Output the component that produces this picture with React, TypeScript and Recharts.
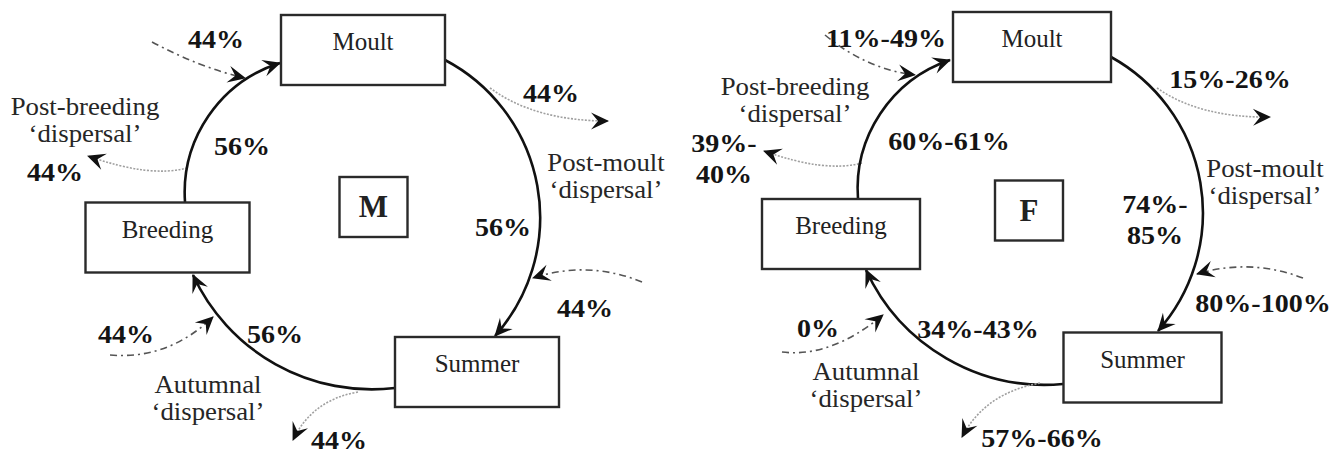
import React from "react";
import { Scatter, ScatterChart, XAxis, YAxis } from "recharts";

type Pt = [number, number];

const W = 1341;
const H = 454;

const stages = ["Moult", "Breeding", "Summer"];
const panels = ["M", "F"];
const dispersalLabels = [
  ["Post-breeding", "\u2018dispersal\u2019"],
  ["Post-moult", "\u2018dispersal\u2019"],
  ["Autumnal", "\u2018dispersal\u2019"],
];

// routes, in this order everywhere below
const routeKeys = [
  "inMoult",
  "postBreeding",
  "breedingToMoult",
  "postMoult",
  "moultToSummer",
  "inSummer",
  "inBreeding",
  "summerToBreeding",
  "autumnal",
];
const routeKind = ["in", "out", "cycle", "out", "cycle", "in", "in", "cycle", "out"];

const maleShares = [["44%"], ["44%"], ["56%"], ["44%"], ["56%"], ["44%"], ["44%"], ["56%"], ["44%"]];
const femaleShares = [
  ["11%-49%"],
  ["39%-", "40%"],
  ["60%-61%"],
  ["15%-26%"],
  ["74%-", "85%"],
  ["80%-100%"],
  ["0%"],
  ["34%-43%"],
  ["57%-66%"],
];

// layout in page units (x right, y down)
const maleStageAt: Pt[] = [[363, 50], [167.5, 237.5], [477, 372]];
const femaleStageAt: Pt[] = [[1032, 47], [841, 234], [1142.5, 367.5]];
const panelAt: Pt[] = [[373.5, 207], [1029, 210.5]];

const maleShareAt: Pt[] = [
  [216, 48], [55, 181], [242, 155], [551, 102], [503, 236],
  [585, 317], [126, 343], [275, 343], [339, 449],
];
const femaleShareAt: Pt[] = [
  [886, 47], [724, 152], [949, 150], [1230, 88], [1155, 213],
  [1263, 312], [818, 337], [978, 338], [1042, 447],
];
const maleDispersalAt: Pt[] = [[85, 115], [606, 171], [208, 393]];
const femaleDispersalAt: Pt[] = [[795, 95], [1265, 177], [866, 380]];

// start, (bend), end of every route
const maleRoutes: Pt[][] = [
  [[152, 42], [201, 68], [245, 78]],
  [[187, 168], [150, 178], [88, 156]],
  [[185, 202], [280, 63]],
  [[490, 88], [535, 121], [608, 121]],
  [[445, 60], [495, 336]],
  [[642, 282], [588, 260], [533, 278]],
  [[110, 355], [168, 360], [213, 317]],
  [[395, 388], [193, 275]],
  [[358, 392], [312, 400], [293, 440]],
];
const femaleRoutes: Pt[][] = [
  [[825, 35], [866, 69], [915, 75]],
  [[862, 163], [825, 173], [764, 151]],
  [[858, 199], [950, 60]],
  [[1157, 88], [1200, 118], [1270, 117]],
  [[1111, 57], [1158, 331]],
  [[1303, 278], [1250, 258], [1197, 274]],
  [[782, 352], [831, 358], [883, 315]],
  [[1063, 384], [866, 270]],
  [[1040, 383], [985, 393], [962, 437]],
];
const cycleRadius: Record<string, number> = {
  breedingToMoult: 136,
  moultToSummer: 178,
  summerToBreeding: 197,
};

const stageBoxSize = [[164, 70], [158, 70]];
const panelBoxSize = [68, 60];

const FONT = "'Liberation Serif', 'Times New Roman', serif";

const routeStyle: Record<string, React.SVGProps<SVGPathElement>> = {
  cycle: { stroke: "#111", strokeWidth: 2.6 },
  in: { stroke: "#555", strokeWidth: 1.6, strokeDasharray: "7 4 2 4" },
  out: { stroke: "#a0a0a0", strokeWidth: 1.6, strokeDasharray: "2 1.5" },
};

const routeLine = (key: string, kind: string, withDefs: boolean) => (props: any) => {
  const p = props.points as { x: number; y: number }[];
  const d =
    p.length === 2
      ? `M${p[0].x},${p[0].y} A${cycleRadius[key]},${cycleRadius[key]} 0 0 1 ${p[1].x},${p[1].y}`
      : `M${p[0].x},${p[0].y} Q${p[1].x},${p[1].y} ${p[2].x},${p[2].y}`;
  return (
    <g>
      {withDefs && (
        <defs>
          <marker
            id="stealth"
            viewBox="-20 -10 22 20"
            refX="0"
            refY="0"
            markerWidth="22"
            markerHeight="20"
            markerUnits="userSpaceOnUse"
            orient="auto"
          >
            <path d="M1,0 L-17,-8.5 L-10,0 L-17,8.5 Z" fill="#111" />
          </marker>
        </defs>
      )}
      <path d={d} fill="none" {...routeStyle[kind]} markerEnd="url(#stealth)" />
    </g>
  );
};

const NoDot = () => <g />;

const BoxMark = (props: any) => {
  const { cx, cy, payload } = props;
  const { w, h, label, letter } = payload;
  return (
    <g>
      <rect x={cx - w / 2} y={cy - h / 2} width={w} height={h} fill="#fff" stroke="#2a2a2a" strokeWidth={2.4} />
      <text
        x={cx}
        y={letter ? cy + 10 : cy}
        textAnchor="middle"
        fontFamily={FONT}
        fontSize={letter ? 31 : 25}
        fontWeight={letter ? 700 : 400}
        fill="#222"
      >
        {label}
      </text>
    </g>
  );
};

const TextMark = (props: any) => {
  const { cx, cy, payload } = props;
  const gap = payload.bold ? 31 : 27;
  const sx = payload.bold ? 1.1 : 1.05;
  return (
    <text
      transform={`translate(${cx},${cy}) scale(${sx},1)`}
      x={0}
      y={0}
      textAnchor="middle"
      fontFamily={FONT}
      fontSize={25.5}
      fontWeight={payload.bold ? 700 : 400}
      fill={payload.bold ? "#141414" : "#262626"}
    >
      {payload.lines.map((l: string, i: number) => (
        <tspan key={i} x={0} dy={i === 0 ? 0 : gap}>
          {l}
        </tspan>
      ))}
    </text>
  );
};

const panelData = [
  { stageAt: maleStageAt, shares: maleShares, shareAt: maleShareAt, dispAt: maleDispersalAt, routes: maleRoutes },
  { stageAt: femaleStageAt, shares: femaleShares, shareAt: femaleShareAt, dispAt: femaleDispersalAt, routes: femaleRoutes },
];

const boxes = panelData.flatMap((pd, pi) => [
  ...stages.map((s, i) => ({
    x: pd.stageAt[i][0],
    y: pd.stageAt[i][1],
    w: stageBoxSize[pi][0],
    h: stageBoxSize[pi][1],
    label: s,
    letter: false,
  })),
  {
    x: panelAt[pi][0],
    y: panelAt[pi][1],
    w: panelBoxSize[0],
    h: panelBoxSize[1],
    label: panels[pi],
    letter: true,
  },
]);

const texts = panelData.flatMap((pd) => [
  ...pd.shares.map((lines, i) => ({ x: pd.shareAt[i][0], y: pd.shareAt[i][1], lines, bold: true })),
  ...dispersalLabels.map((lines, i) => ({ x: pd.dispAt[i][0], y: pd.dispAt[i][1], lines, bold: false })),
]);

export default function App() {
  return (
    <div style={{ position: "absolute", left: 0, top: 0, background: "#fff" }}>
      <ScatterChart width={W} height={H} margin={{ top: 0, right: 0, bottom: 0, left: 0 }}>
        <XAxis type="number" dataKey="x" domain={[0, W]} hide />
        <YAxis type="number" dataKey="y" domain={[0, H]} reversed hide />
        {panelData.flatMap((pd, pi) =>
          pd.routes.map((r, i) => (
            <Scatter
              key={`route-${pi}-${i}`}
              data={r.map(([x, y]) => ({ x, y }))}
              line={routeLine(routeKeys[i], routeKind[i], pi === 0 && i === 0)}
              lineType="joint"
              shape={NoDot}
              isAnimationActive={false}
            />
          ))
        )}
        <Scatter data={boxes} shape={BoxMark} isAnimationActive={false} />
        <Scatter data={texts} shape={TextMark} isAnimationActive={false} />
      </ScatterChart>
    </div>
  );
}
